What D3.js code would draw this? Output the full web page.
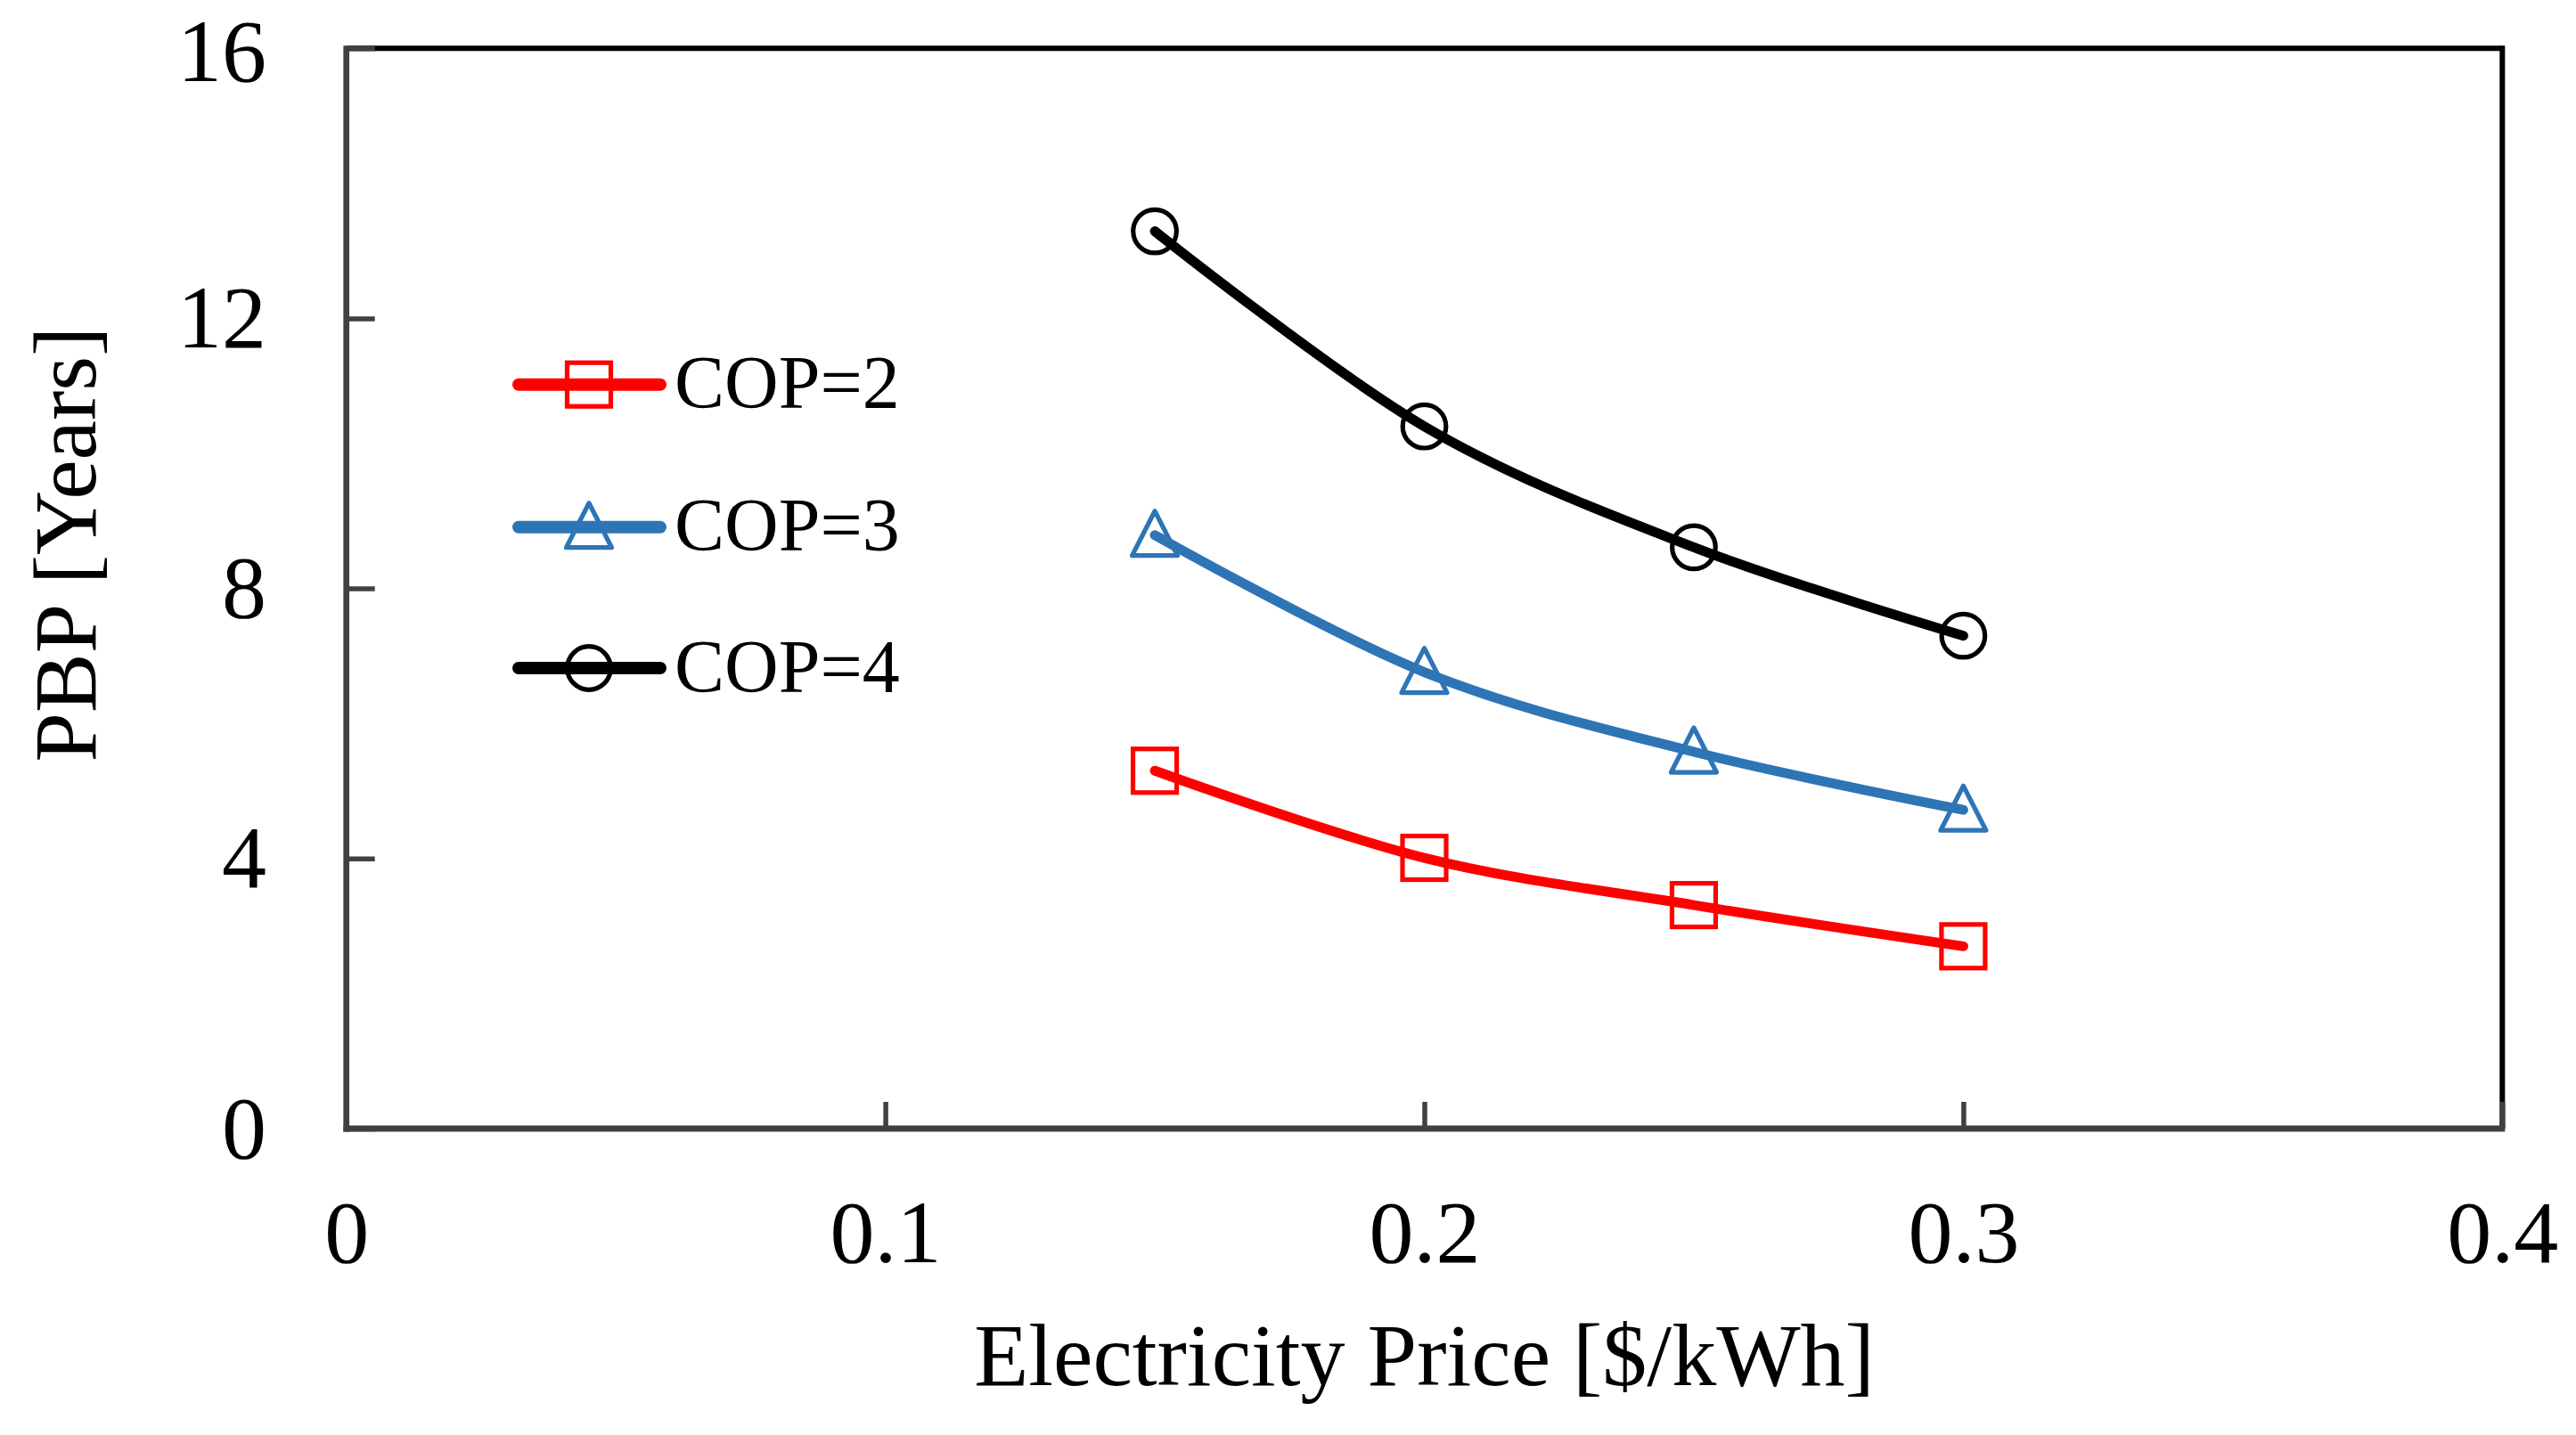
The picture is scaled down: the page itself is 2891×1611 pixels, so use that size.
<!DOCTYPE html>
<html>
<head>
<meta charset="utf-8">
<script src="https://cdn.jsdelivr.net/npm/d3@7"></script>
<style>
  html, body { margin: 0; padding: 0; background: #fff; }
  svg { display: block; }
  text { font-family: "Liberation Serif", "Times New Roman", serif; fill: #000; }
</style>
</head>
<body>
<svg id="chart" width="2891" height="1611"></svg>
<script>
// ---- data ----
const xValues = [0.15, 0.2, 0.25, 0.3];
const cop2 = [5.30, 4.01, 3.31, 2.70];
const cop3 = [8.79, 6.76, 5.58, 4.72];
const cop4 = [13.29, 10.40, 8.61, 7.30];
const seriesNames = ["COP=2", "COP=3", "COP=4"];
const xTicks = [0, 0.1, 0.2, 0.3, 0.4];
const yTicks = [0, 4, 8, 12, 16];
const xTitle = "Electricity Price [$/kWh]";
const yTitle = "PBP [Years]";

(function () {
// ---- layout ----
const W = 2891, H = 1611;
const pL = 388.7, pR = 2808.3, pT = 54.2, pB = 1267;
const colors = ["#FF0000", "#2E75B6", "#000000"];
const shapes = ["square", "triangle", "circle"];

const svg = d3.select("#chart");
svg.append("rect").attr("width", W).attr("height", H).attr("fill", "#fff");

const x = d3.scaleLinear().domain([0, 0.4]).range([pL, pR]);
const y = d3.scaleLinear().domain([0, 16]).range([pB, pT]);

// frame: top & right black
svg.append("line").attr("x1", pL).attr("x2", pR).attr("y1", pT).attr("y2", pT)
  .attr("stroke", "#000").attr("stroke-width", 6);
svg.append("line").attr("x1", pR).attr("x2", pR).attr("y1", pT - 3).attr("y2", pB)
  .attr("stroke", "#000").attr("stroke-width", 6);

// axes
const fmtX = d => d === 0 ? "0" : d3.format(".1f")(d);
const xAxis = svg.append("g").attr("transform", `translate(0,${pB})`)
  .call(d3.axisBottom(x).tickValues(xTicks).tickFormat(fmtX).tickSize(-30).tickPadding(79));
const yAxis = svg.append("g").attr("transform", `translate(${pL},0)`)
  .call(d3.axisLeft(y).tickValues(yTicks).tickFormat(d3.format("d")).tickSize(-32).tickPadding(89.7));
[xAxis, yAxis].forEach(g => {
  g.select(".domain").remove();
  g.selectAll(".tick line").attr("stroke", "#404040").attr("stroke-width", 5.5);
  g.selectAll(".tick text").attr("font-size", 100)
    .attr("font-family", "'Liberation Serif', 'Times New Roman', serif").attr("fill", "#000");
});
// keep the top label glyphs inside the picture
yAxis.selectAll(".tick text").filter(d => d === 16).attr("dy", "0.36em");

// left & bottom axis lines (grey)
svg.append("line").attr("x1", pL).attr("x2", pL).attr("y1", pT - 3).attr("y2", pB + 3.5)
  .attr("stroke", "#404040").attr("stroke-width", 6.7);
svg.append("line").attr("x1", pL - 3.3).attr("x2", pR + 3).attr("y1", pB).attr("y2", pB)
  .attr("stroke", "#404040").attr("stroke-width", 7);

// titles
svg.append("text").attr("x", (pL + pR) / 2).attr("y", 1555)
  .attr("text-anchor", "middle").attr("font-size", 100).text(xTitle);
svg.append("text").attr("transform", "translate(107,611) rotate(-90)")
  .attr("text-anchor", "middle").attr("font-size", 100).text(yTitle);

// marker drawing
function drawMarker(g, shape, cx, cy, color) {
  if (shape === "square") {
    g.append("rect").attr("x", cx - 24.5).attr("y", cy - 24.5).attr("width", 49).attr("height", 49)
      .attr("fill", "none").attr("stroke", color).attr("stroke-width", 5.2);
  } else if (shape === "circle") {
    g.append("circle").attr("cx", cx).attr("cy", cy).attr("r", 24.3)
      .attr("fill", "none").attr("stroke", color).attr("stroke-width", 5.2);
  } else {
    const h = 50, hw = 25.5;
    const pts = [[cx, cy - h / 2 - 2], [cx + hw, cy + h / 2 - 2], [cx - hw, cy + h / 2 - 2]];
    g.append("path").attr("d", "M" + pts.map(p => p.join(",")).join("L") + "Z")
      .attr("fill", "none").attr("stroke", color).attr("stroke-width", 5.2).attr("stroke-linejoin", "round");
  }
}

// series
const allSeries = [cop2, cop3, cop4];
const line = d3.line().x(d => x(d[0])).y(d => y(d[1])).curve(d3.curveCardinal.tension(0));
allSeries.forEach((vals, i) => {
  const pts = xValues.map((xv, j) => [xv, vals[j]]);
  const g = svg.append("g");
  g.append("path").attr("d", line(pts)).attr("fill", "none").attr("stroke", colors[i])
    .attr("stroke-width", 11).attr("stroke-linecap", "round").attr("stroke-linejoin", "round");
  pts.forEach(p => drawMarker(g, shapes[i], x(p[0]), y(p[1]), colors[i]));
});

// legend
const legendRows = [431.7, 591.7, 750];
seriesNames.forEach((name, i) => {
  const g = svg.append("g");
  const ly = legendRows[i];
  g.append("line").attr("x1", 582).attr("x2", 741).attr("y1", ly).attr("y2", ly)
    .attr("stroke", colors[i]).attr("stroke-width", 14).attr("stroke-linecap", "round");
  drawMarker(g, shapes[i], 661, ly, colors[i]);
  g.append("text").attr("x", 757).attr("y", ly + 26.5).attr("font-size", 84).text(name);
});
})();
</script>
</body>
</html>
